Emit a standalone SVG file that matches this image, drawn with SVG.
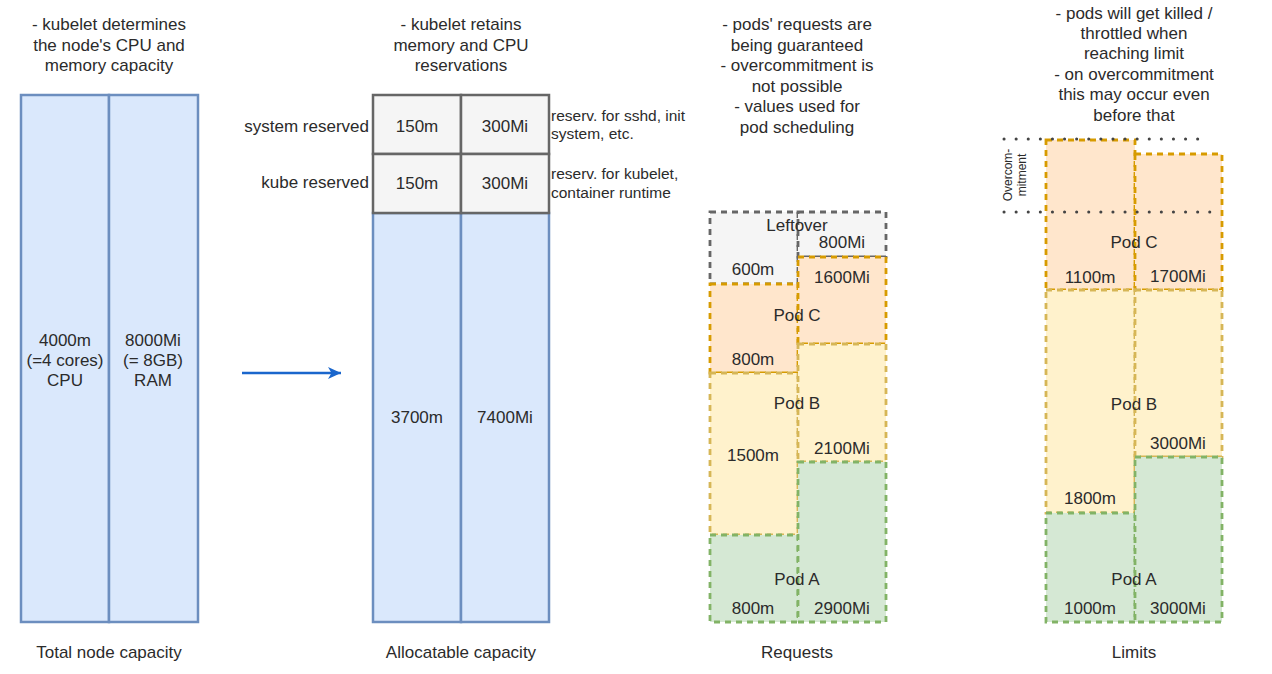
<svg xmlns="http://www.w3.org/2000/svg" width="1272" height="674" viewBox="0 0 1272 674">
<style>
text{font-family:"Liberation Sans",Arial,sans-serif;fill:#2b2b2b;dominant-baseline:central}
.t{font-size:17px;text-anchor:middle}
.s{font-size:15.5px;text-anchor:start}
.r{font-size:17px;text-anchor:end}
.v{font-size:12px;text-anchor:middle}
.blue{fill:#dae8fc;stroke:#6c8ebf;stroke-width:2.5}
.gray{fill:#f5f5f5;stroke:#666;stroke-width:2.5}
.left{fill:#f5f5f5;stroke:#666;stroke-width:2.8;stroke-dasharray:6 5}
.podc{fill:#ffe6cc;stroke:#d79b00;stroke-width:2.8;stroke-dasharray:6 5}
.podb{fill:#fff2cc;stroke:#d6b656;stroke-width:2.8;stroke-dasharray:6 5}
.poda{fill:#d5e8d4;stroke:#82b366;stroke-width:2.8;stroke-dasharray:6 5}
.dot{stroke:#444;stroke-width:3;stroke-dasharray:0.1 12;stroke-linecap:round;fill:none}
</style>
<defs>
<marker id="ah" markerWidth="14" markerHeight="14" refX="13" refY="7" orient="auto" markerUnits="userSpaceOnUse">
<path d="M0,1 L13,7 L0,13 L3.5,7 Z" fill="#1a66cc"/>
</marker>
</defs>

<g id="total">
<text class="t" x="109" y="24">- kubelet determines</text>
<text class="t" x="109" y="45">the node's CPU and</text>
<text class="t" x="109" y="65">memory capacity</text>
<rect class="blue" x="21" y="95" width="88" height="527"/>
<rect class="blue" x="109" y="95" width="89" height="527"/>
<text class="t" x="65" y="340">4000m</text>
<text class="t" x="65" y="360">(=4 cores)</text>
<text class="t" x="65" y="380">CPU</text>
<text class="t" x="153" y="340">8000Mi</text>
<text class="t" x="153" y="360">(= 8GB)</text>
<text class="t" x="153" y="380">RAM</text>
<text class="t" x="109" y="652">Total node capacity</text>
</g>

<g id="allocatable">
<text class="t" x="461" y="24">- kubelet retains</text>
<text class="t" x="461" y="45">memory and CPU</text>
<text class="t" x="461" y="65">reservations</text>
<rect class="blue" x="373" y="213" width="88" height="409"/>
<rect class="blue" x="461" y="213" width="88" height="409"/>
<rect class="gray" x="373" y="95" width="88" height="59"/>
<rect class="gray" x="461" y="95" width="88" height="59"/>
<rect class="gray" x="373" y="154" width="88" height="59"/>
<rect class="gray" x="461" y="154" width="88" height="59"/>
<text class="r" x="369" y="126">system reserved</text>
<text class="r" x="369" y="182">kube reserved</text>
<text class="t" x="417" y="126">150m</text>
<text class="t" x="505" y="126">300Mi</text>
<text class="t" x="417" y="183">150m</text>
<text class="t" x="505" y="183">300Mi</text>
<text class="s" x="551" y="115">reserv. for sshd, init</text>
<text class="s" x="551" y="133">system, etc.</text>
<text class="s" x="551" y="173">reserv. for kubelet,</text>
<text class="s" x="551" y="192">container runtime</text>
<text class="t" x="417" y="417">3700m</text>
<text class="t" x="505" y="417">7400Mi</text>
<text class="t" x="461" y="652">Allocatable capacity</text>
</g>

<g id="requests">
<text class="t" x="797" y="24">- pods' requests are</text>
<text class="t" x="797" y="45">being guaranteed</text>
<text class="t" x="797" y="65">- overcommitment is</text>
<text class="t" x="797" y="86">not possible</text>
<text class="t" x="797" y="106">- values used for</text>
<text class="t" x="797" y="127">pod scheduling</text>
<rect class="left" x="710" y="212" width="88" height="72"/>
<rect class="left" x="798" y="212" width="88" height="45"/>
<rect class="podc" x="710" y="284" width="88" height="89"/>
<rect class="podc" x="798" y="257" width="88" height="87"/>
<rect class="podb" x="710" y="373" width="88" height="162"/>
<rect class="podb" x="798" y="344" width="88" height="118"/>
<rect class="poda" x="710" y="535" width="88" height="87"/>
<rect class="poda" x="798" y="462" width="88" height="160"/>
<text class="t" x="797" y="225">Leftover</text>
<text class="t" x="842" y="242">800Mi</text>
<text class="t" x="753" y="269">600m</text>
<text class="t" x="842" y="277">1600Mi</text>
<text class="t" x="797" y="315">Pod C</text>
<text class="t" x="753" y="359">800m</text>
<text class="t" x="797" y="403">Pod B</text>
<text class="t" x="753" y="455">1500m</text>
<text class="t" x="842" y="448">2100Mi</text>
<text class="t" x="797" y="579">Pod A</text>
<text class="t" x="753" y="608">800m</text>
<text class="t" x="842" y="608">2900Mi</text>
<text class="t" x="797" y="652">Requests</text>
</g>

<g id="limits">
<text class="t" x="1134" y="13">- pods will get killed /</text>
<text class="t" x="1134" y="33">throttled when</text>
<text class="t" x="1134" y="53">reaching limit</text>
<text class="t" x="1134" y="74">- on overcommitment</text>
<text class="t" x="1134" y="94">this may occur even</text>
<text class="t" x="1134" y="115">before that</text>
<rect class="podc" x="1046" y="140" width="89" height="150"/>
<rect class="podc" x="1135" y="154" width="87" height="136"/>
<rect class="podb" x="1046" y="290" width="89" height="223"/>
<rect class="podb" x="1135" y="290" width="87" height="167"/>
<rect class="poda" x="1046" y="513" width="89" height="109"/>
<rect class="poda" x="1135" y="457" width="87" height="165"/>
<text class="t" x="1134" y="242">Pod C</text>
<text class="t" x="1090" y="277">1100m</text>
<text class="t" x="1178" y="276">1700Mi</text>
<text class="t" x="1134" y="404">Pod B</text>
<text class="t" x="1178" y="443">3000Mi</text>
<text class="t" x="1090" y="498">1800m</text>
<text class="t" x="1134" y="579">Pod A</text>
<text class="t" x="1090" y="608">1000m</text>
<text class="t" x="1178" y="608">3000Mi</text>
<text class="t" x="1134" y="652">Limits</text>
</g>

<g id="overcommitment">
<line class="dot" x1="1004" y1="139" x2="1206" y2="139"/>
<line class="dot" x1="1004" y1="212" x2="1216" y2="212"/>
<text class="v" transform="rotate(-90 1015 175)" x="1015" y="168">Overcom-</text>
<text class="v" transform="rotate(-90 1015 175)" x="1015" y="182">mitment</text>
</g>

<g id="connectors">
<line x1="242" y1="373" x2="341" y2="373" stroke="#1a66cc" stroke-width="2.5" marker-end="url(#ah)"/>
</g>
</svg>
